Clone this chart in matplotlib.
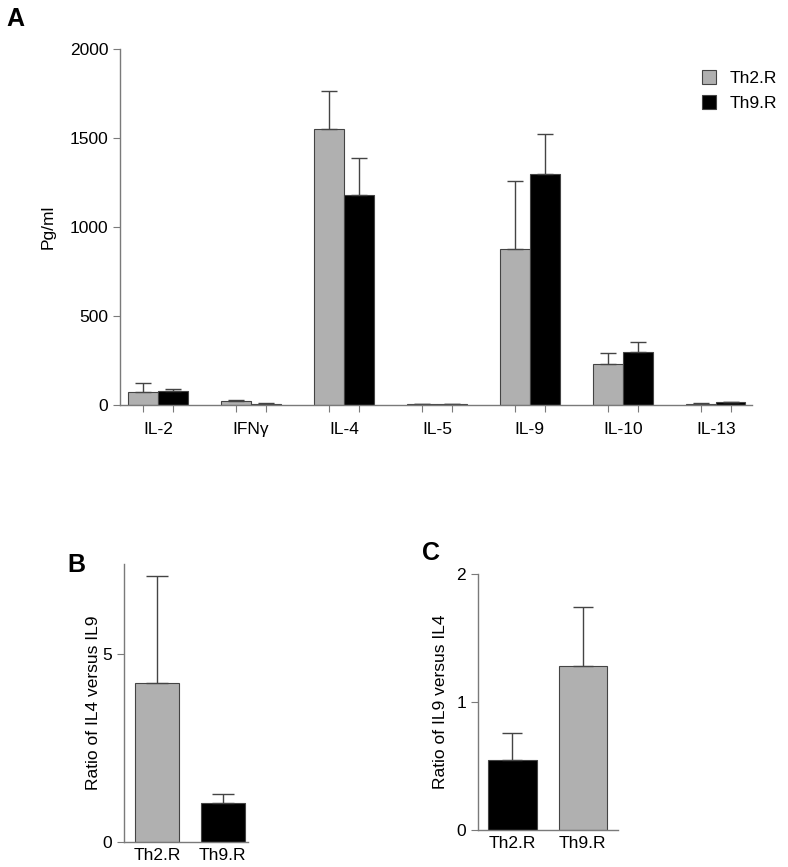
import numpy as np
import matplotlib
matplotlib.use("Agg")
import matplotlib.pyplot as plt

plt.rcParams['font.family'] = ['Liberation Sans', 'DejaVu Sans']

# panel A data (pg/ml, mean and upper error)
cytokines = ['IL-2', 'IFN\u03b3', 'IL-4', 'IL-5', 'IL-9', 'IL-10', 'IL-13']
th2_mean = [73, 22, 1551, 5, 876, 230, 8]
th2_err = [51, 4, 215, 1, 382, 62, 4]
th9_mean = [80, 8, 1180, 5, 1298, 298, 15]
th9_err = [8, 4, 209, 1, 224, 56, 4]
groups = ['Th2.R', 'Th9.R']

# panel B: ratio IL4 / IL9
ratio_b = [4.23, 1.04]
ratio_b_err = [2.84, 0.23]
# panel C: ratio IL9 / IL4
ratio_c = [0.55, 1.28]
ratio_c_err = [0.21, 0.46]

gray = '#b0b0b0'
black = '#000000'
edge = '#444444'
spine = '#7a7a7a'


def style(ax):
    for s in ['top', 'right']:
        ax.spines[s].set_visible(False)
    for s in ['left', 'bottom']:
        ax.spines[s].set_color(spine)
        ax.spines[s].set_linewidth(1.0)
    ax.tick_params(axis='both', colors=spine, labelcolor='black',
                   direction='out', labelsize=12.5, length=5)


fig = plt.figure(figsize=(7.88, 8.67), dpi=100)

# ---- panel A ----
axA = fig.add_axes([0.1523, 0.5329, 0.802, 0.4106])
x = np.arange(len(cytokines))
w = 0.32
ekw = dict(ecolor=edge, elinewidth=1.0, capthick=1.0)
axA.bar(x - w / 2, th2_mean, w, color=gray, edgecolor=edge, linewidth=0.8,
        yerr=[np.zeros(len(x)), th2_err], capsize=5.5, error_kw=ekw,
        label=groups[0])
axA.bar(x + w / 2, th9_mean, w, color=black, edgecolor=edge, linewidth=0.8,
        yerr=[np.zeros(len(x)), th9_err], capsize=5.5, error_kw=ekw,
        label=groups[1])
style(axA)
axA.set_ylim(0, 2000)
axA.set_yticks([0, 500, 1000, 1500, 2000])
axA.set_xlim(-0.41, 6.39)
# small ticks under each bar, category names centred on the pair
axA.set_xticks(np.concatenate([x - w / 2, x + w / 2]))
axA.set_xticklabels([])
axA.set_xticks(x, minor=True)
axA.set_xticklabels(cytokines, minor=True)
axA.tick_params(axis='x', which='minor', length=0, pad=12, labelsize=12.5)
axA.set_ylabel('Pg/ml', fontsize=12.5, labelpad=10)
axA.legend(loc='upper right', bbox_to_anchor=(1.065, 0.985), frameon=False,
           fontsize=12.5, handlelength=0.8, handleheight=0.9,
           handletextpad=0.8, labelspacing=0.5)

fig.text(0.008, 0.978, 'A', fontsize=18, fontweight='bold', va='center')

# ---- panel B ----
axB = fig.add_axes([0.1574, 0.0288, 0.157, 0.3206])
xb = np.arange(2)
axB.bar(xb, ratio_b, 0.667, color=[gray, black], edgecolor=edge, linewidth=0.8,
        yerr=[np.zeros(2), ratio_b_err], capsize=8, error_kw=ekw)
style(axB)
axB.set_ylim(0, 7.4)
axB.set_yticks([0, 5])
axB.set_xlim(-0.5, 1.38)
axB.set_xticks(xb)
axB.set_xticklabels(groups)
axB.tick_params(axis='x', length=0, pad=4)
axB.set_ylabel('Ratio of IL4 versus IL9', fontsize=12.5, labelpad=1)
fig.text(0.085, 0.348, 'B', fontsize=18, fontweight='bold', va='center')

# ---- panel C ----
axC = fig.add_axes([0.6066, 0.0427, 0.1777, 0.2953])
xc = np.arange(2)
axC.bar(xc, ratio_c, 0.69, color=[black, gray], edgecolor=edge, linewidth=0.8,
        yerr=[np.zeros(2), ratio_c_err], capsize=7.5, error_kw=ekw)
style(axC)
axC.set_ylim(0, 2)
axC.set_yticks([0, 1, 2])
axC.set_xlim(-0.49, 1.5)
axC.set_xticks(xc)
axC.set_xticklabels(groups)
axC.tick_params(axis='x', length=0, pad=4)
axC.set_ylabel('Ratio of IL9 versus IL4', fontsize=12.5, labelpad=6)
fig.text(0.536, 0.362, 'C', fontsize=18, fontweight='bold', va='center')

fig.savefig('out.png', dpi=100)
